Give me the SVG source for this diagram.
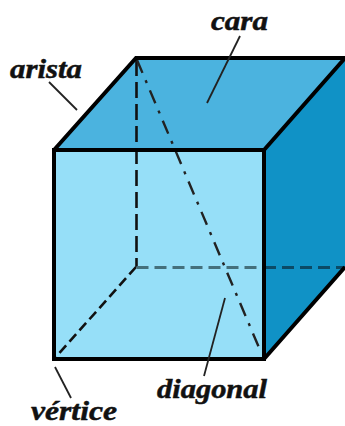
<svg xmlns="http://www.w3.org/2000/svg" width="345" height="426" viewBox="0 0 345 426">
<style>
.lb{font-family:"Liberation Serif","Times New Roman",serif;font-weight:bold;font-style:italic;font-size:28px;fill:#111;stroke:#111;stroke-width:.5}
.ln{fill:none;stroke:#222;stroke-width:1.8}
.ed{fill:none;stroke:#000;stroke-width:4;stroke-linejoin:miter}
.da{fill:none;stroke:#111;stroke-width:2.600}
</style>
<rect width="345" height="426" fill="#fff"/>
<g id="cube">
<polygon points="54,150 136,58 345,58 264,150" fill="#4bb3df"/>
<polygon points="264,150 345,58 345,267 264,359" fill="#1092c6"/>
<rect x="54" y="150" width="210" height="209" fill="#96dff8"/>
</g>
<g id="connectors">
<path class="da" d="M136.500,60V267" style="stroke-dasharray:16 6"/>
<path class="da" d="M136,267L54,359" style="stroke-dasharray:10 5"/>
<path d="M136.500,267.500H264" fill="none" stroke="#44707c" stroke-width="2.800" style="stroke-dasharray:12 6"/>
<path d="M264,267.500H345" fill="none" stroke="#0b4a66" stroke-width="2.800" style="stroke-dasharray:12 6"/>
<path class="ln" d="M137,60L260,350" style="stroke-width:2.400;stroke-dasharray:14 8 3 8"/>
<path class="ed" d="M54,150H264V359H54Z"/>
<path class="ed" d="M54,150L136,58H345M264,150L345,58M264,359L345,267"/>
<path class="ln" d="M49,82L77,110"/>
<path class="ln" d="M240,36L207,103"/>
<path class="ln" d="M225,298L204,376"/>
<path class="ln" d="M55,367L71,398"/>
</g>
<g id="cara"><text class="lb" x="211" y="30" textLength="57" lengthAdjust="spacingAndGlyphs">cara</text></g>
<g id="arista"><text class="lb" x="10" y="78" textLength="72" lengthAdjust="spacingAndGlyphs">arista</text></g>
<g id="diagonal"><text class="lb" x="157" y="398" textLength="110" lengthAdjust="spacingAndGlyphs">diagonal</text></g>
<g id="vertice"><text class="lb" x="31" y="419.500" textLength="86" lengthAdjust="spacingAndGlyphs">vértice</text></g>
</svg>
